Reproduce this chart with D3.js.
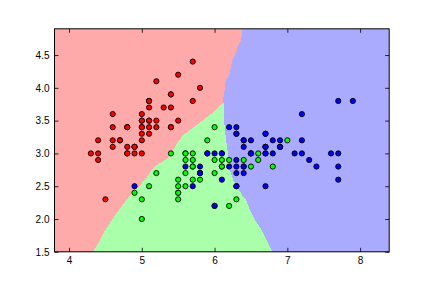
<!DOCTYPE html>
<html>
<head>
<meta charset="utf-8">
<script src="https://cdn.jsdelivr.net/npm/d3@7"></script>
<style>
  body { margin: 0; background: #fff; }
  svg { display: block; font-family: "DejaVu Sans", sans-serif; }
</style>
</head>
<body>
<svg class="knn-chart" width="432" height="288"></svg>
<script>
// Iris data, sepal length / sepal width, per class
const setosa = [
  [5.1,3.5],[4.9,3.0],[4.7,3.2],[4.6,3.1],[5.0,3.6],[5.4,3.9],[4.6,3.4],[5.0,3.4],[4.4,2.9],[4.9,3.1],
  [5.4,3.7],[4.8,3.4],[4.8,3.0],[4.3,3.0],[5.8,4.0],[5.7,4.4],[5.4,3.9],[5.1,3.5],[5.7,3.8],[5.1,3.8],
  [5.4,3.4],[5.1,3.7],[4.6,3.6],[5.1,3.3],[4.8,3.4],[5.0,3.0],[5.0,3.4],[5.2,3.5],[5.2,3.4],[4.7,3.2],
  [4.8,3.1],[5.4,3.4],[5.2,4.1],[5.5,4.2],[4.9,3.1],[5.0,3.2],[5.5,3.5],[4.9,3.1],[4.4,3.0],[5.1,3.4],
  [5.0,3.5],[4.5,2.3],[4.4,3.2],[5.0,3.5],[5.1,3.8],[4.8,3.0],[5.1,3.8],[4.6,3.2],[5.3,3.7],[5.0,3.3]
];
const versicolor = [
  [7.0,3.2],[6.4,3.2],[6.9,3.1],[5.5,2.3],[6.5,2.8],[5.7,2.8],[6.3,3.3],[4.9,2.4],[6.6,2.9],[5.2,2.7],
  [5.0,2.0],[5.9,3.0],[6.0,2.2],[6.1,2.9],[5.6,2.9],[6.7,3.1],[5.6,3.0],[5.8,2.7],[6.2,2.2],[5.6,2.5],
  [5.9,3.2],[6.1,2.8],[6.3,2.5],[6.1,2.8],[6.4,2.9],[6.6,3.0],[6.8,2.8],[6.7,3.0],[6.0,2.9],[5.7,2.6],
  [5.5,2.4],[5.5,2.4],[5.8,2.7],[6.0,2.7],[5.4,3.0],[6.0,3.4],[6.7,3.1],[6.3,2.3],[5.6,3.0],[5.5,2.5],
  [5.5,2.6],[6.1,3.0],[5.8,2.6],[5.0,2.3],[5.6,2.7],[5.7,3.0],[5.7,2.9],[6.2,2.9],[5.1,2.5],[5.7,2.8]
];
const virginica = [
  [6.3,3.3],[5.8,2.7],[7.1,3.0],[6.3,2.9],[6.5,3.0],[7.6,3.0],[4.9,2.5],[7.3,2.9],[6.7,2.5],[7.2,3.6],
  [6.5,3.2],[6.4,2.7],[6.8,3.0],[5.7,2.5],[5.8,2.8],[6.4,3.2],[6.5,3.0],[7.7,3.8],[7.7,2.6],[6.0,2.2],
  [6.9,3.2],[5.6,2.8],[7.7,2.8],[6.3,2.7],[6.7,3.3],[7.2,3.2],[6.2,2.8],[6.1,3.0],[6.4,2.8],[7.2,3.0],
  [7.4,2.8],[7.9,3.8],[6.4,2.8],[6.3,2.8],[6.1,2.6],[7.7,3.0],[6.3,3.4],[6.4,3.1],[6.0,3.0],[6.9,3.1],
  [6.7,3.1],[6.9,3.1],[5.8,2.7],[6.8,3.2],[6.7,3.3],[6.7,3.0],[6.3,2.5],[6.5,3.0],[6.2,3.4],[5.9,3.0]
];

// decision boundaries (data units), top -> bottom
const pinkBlueBoundary = [
  [6.387,4.9],[6.364,4.729],[6.318,4.637],[6.304,4.561],[6.271,4.485],[6.244,4.409],[6.226,4.332],
  [6.212,4.230],[6.189,4.180],[6.153,4.104],[6.144,4.027],[6.134,3.925],[6.120,3.845],[6.123,3.768]
];
const greenBlueBoundary = [
  [6.123,3.768],[6.130,3.662],[6.130,3.510],[6.157,3.205],[6.178,3.052],[6.199,2.899],[6.212,2.748],
  [6.254,2.595],[6.322,2.473],[6.377,2.366],[6.432,2.290],[6.487,2.137],[6.556,1.985],[6.648,1.833],
  [6.717,1.680],[6.769,1.558],[6.790,1.5]
];
const pinkGreenBoundary = [
  [6.123,3.768],[6.075,3.738],[5.961,3.611],[5.845,3.509],[5.755,3.433],[5.663,3.357],[5.570,3.280],
  [5.498,3.174],[5.388,2.976],[5.319,2.899],[5.205,2.823],[5.136,2.748],[5.044,2.595],[4.952,2.492],
  [4.861,2.396],[4.759,2.244],[4.655,2.091],[4.563,1.939],[4.471,1.787],[4.402,1.634],[4.329,1.5]
];

const xTicks = [4, 5, 6, 7, 8];
const yTicks = [1.5, 2.0, 2.5, 3.0, 3.5, 4.0, 4.5];
const lightColors = ['#FFAAAA', '#AAFFAA', '#AAAAFF'];
const boldColors = ['#FF0000', '#00FF00', '#0000FF'];

const svg = d3.select('.knn-chart');

const samples = [];
[setosa, versicolor, virginica].forEach((pts, label) => {
  pts.forEach(p => samples.push({ x: p[0], y: p[1], label }));
});

const xMin = d3.min(samples, d => d.x) - 0.5, xMax = d3.max(samples, d => d.x) + 0.5;
const yMin = d3.min(samples, d => d.y) - 0.5, yMax = d3.max(samples, d => d.y) + 0.5;

const xScale = d3.scaleLinear().domain([xMin, xMax]).range([54.5, 389.2]);
const yScale = d3.scaleLinear().domain([yMin, yMax]).range([251.8, 28.8]);

const line = d3.line().x(d => xScale(d[0])).y(d => yScale(d[1]));

// region polygons
const pinkRegion = [[xMin, yMax], ...pinkBlueBoundary, ...pinkGreenBoundary.slice(1), [xMin, yMin]];
const greenRegion = [...greenBlueBoundary, ...pinkGreenBoundary.slice(1).reverse()];
const blueRegion = [[xMin, yMax], [xMax, yMax], [xMax, yMin], [xMin, yMin]];

const regions = svg.append('g').attr('shape-rendering', 'crispEdges');
[[blueRegion, 2], [pinkRegion, 0], [greenRegion, 1]].forEach(([pts, label]) => {
  regions.append('path')
    .datum(pts)
    .attr('d', d => line(d) + 'Z')
    .attr('fill', lightColors[label]);
});

// training points
svg.append('g')
  .selectAll('circle')
  .data(samples)
  .join('circle')
  .attr('cx', d => xScale(d.x))
  .attr('cy', d => yScale(d.y))
  .attr('r', 2.6)
  .attr('fill', d => boldColors[d.label])
  .attr('stroke', '#000')
  .attr('stroke-width', 0.9);

// axes with inward ticks on all sides
const [x0, x1] = xScale.range();
const [y0, y1] = yScale.range();

function styleAxis(g) {
  g.select('.domain').remove();
  g.selectAll('.tick line').attr('stroke', '#000').attr('stroke-width', 0.8);
  g.selectAll('.tick text').attr('fill', '#000').attr('font-size', 10);
}

svg.append('g')
  .attr('transform', `translate(0,${y0})`)
  .call(d3.axisBottom(xScale).tickValues(xTicks).tickFormat(d3.format('d')).tickSize(-4).tickPadding(5))
  .call(styleAxis);
svg.append('g')
  .attr('transform', `translate(0,${y1})`)
  .call(d3.axisTop(xScale).tickValues(xTicks).tickFormat('').tickSize(-4))
  .call(styleAxis);
svg.append('g')
  .attr('transform', `translate(${x0},0)`)
  .call(d3.axisLeft(yScale).tickValues(yTicks).tickFormat(d3.format('.1f')).tickSize(-4).tickPadding(5))
  .call(styleAxis);
svg.append('g')
  .attr('transform', `translate(${x1},0)`)
  .call(d3.axisRight(yScale).tickValues(yTicks).tickFormat('').tickSize(-4))
  .call(styleAxis);

// frame
svg.append('rect')
  .attr('x', x0).attr('y', y1)
  .attr('width', x1 - x0).attr('height', y0 - y1)
  .attr('fill', 'none')
  .attr('stroke', '#000')
  .attr('stroke-width', 1);
</script>
</body>
</html>
